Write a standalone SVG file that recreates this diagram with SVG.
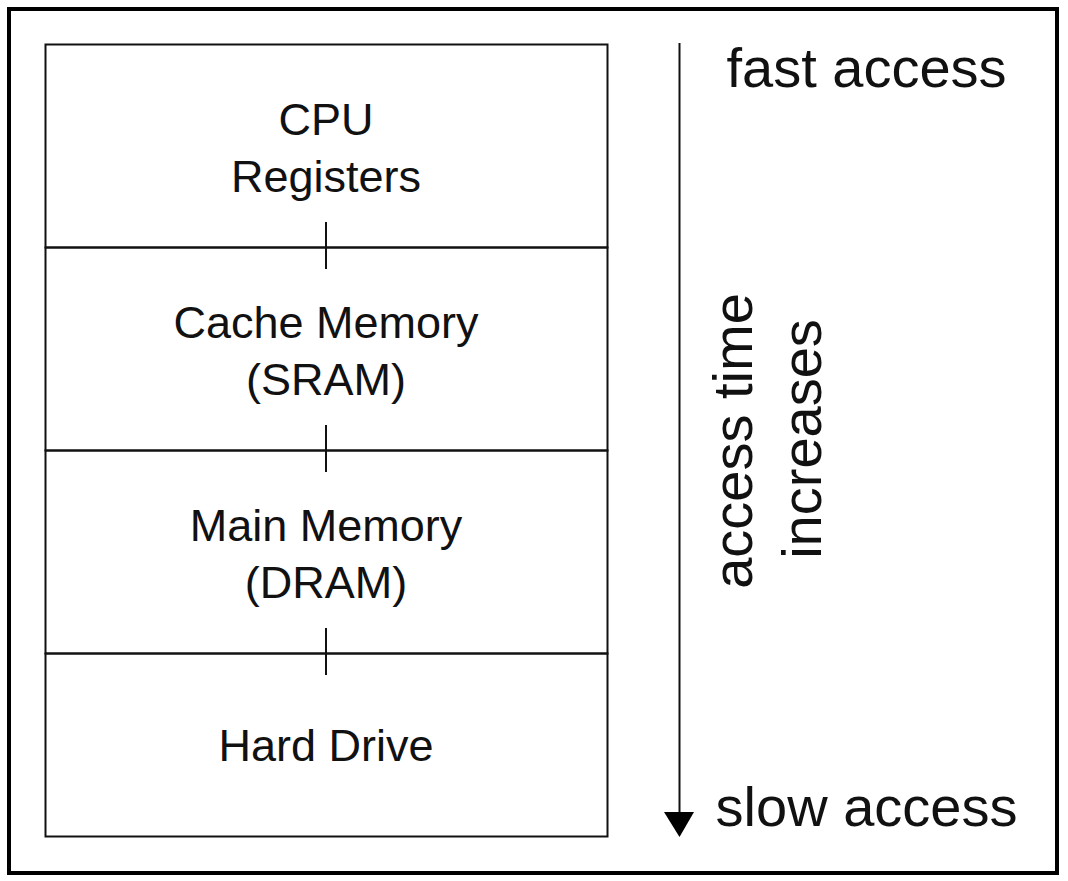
<svg xmlns="http://www.w3.org/2000/svg" width="1068" height="881" viewBox="0 0 1068 881">
<style>
.t{font-family:"Liberation Sans",Arial,sans-serif;fill:#111;text-anchor:middle}
.n{font-size:45px}
.b{font-size:56px}
.ln{stroke:#111;stroke-width:2;fill:none}
</style>
<rect width="1068" height="881" fill="#fff"/>
<rect x="9" y="9" width="1048" height="864" fill="none" stroke="#000" stroke-width="4"/>
<g id="cpu"><rect x="45.5" y="44.5" width="562" height="203" class="ln"/><text class="t n" x="326" y="135">CPU</text><text class="t n" x="326" y="192">Registers</text></g>
<g id="cache"><rect x="45.5" y="247.5" width="562" height="203" class="ln"/><text class="t n" x="326" y="338">Cache Memory</text><text class="t n" x="326" y="395">(SRAM)</text></g>
<g id="main"><rect x="45.5" y="450.5" width="562" height="203" class="ln"/><text class="t n" x="326" y="541">Main Memory</text><text class="t n" x="326" y="598">(DRAM)</text></g>
<g id="hdd"><rect x="45.5" y="653.5" width="562" height="183" class="ln"/><text class="t n" x="326" y="761">Hard Drive</text></g>
<g id="connectors">
<line x1="326" y1="222" x2="326" y2="269" class="ln"/>
<line x1="326" y1="425" x2="326" y2="472" class="ln"/>
<line x1="326" y1="628" x2="326" y2="675" class="ln"/>
<line x1="679.5" y1="43" x2="679.5" y2="814" stroke="#111" stroke-width="2"/>
<polygon points="664,812 694,812 679.5,837" fill="#000"/>
</g>
<text class="t b" x="866.5" y="87">fast access</text>
<text class="t b" x="866.5" y="826">slow access</text>
<text class="t b" transform="translate(752,441) rotate(-90)">access time</text>
<text class="t b" transform="translate(821,439) rotate(-90)">increases</text>
</svg>
